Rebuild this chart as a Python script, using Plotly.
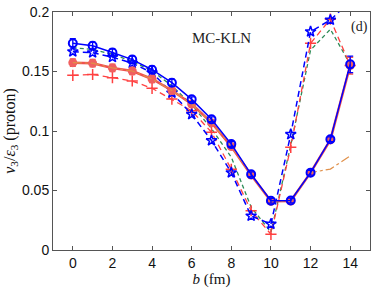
import plotly.graph_objects as go

b = list(range(15))
blue_solid = [0.1737, 0.1717, 0.1660, 0.1600, 0.1515, 0.1406, 0.1266, 0.1098, 0.0890, 0.0636, 0.0414, 0.0416, 0.0650, 0.0930, 0.1560]
blue_err = [0.004, 0.003, 0.003, 0.003, 0.003, 0.003, 0.002, 0.002, 0.002, 0.002, 0.002, 0.002, 0.002, 0.002, 0.007]
red_solid = [0.1574, 0.1570, 0.1530, 0.1504, 0.1437, 0.1340, 0.1227, 0.1070, 0.0870, 0.0630, 0.0410, 0.0412, 0.0650, 0.0925, 0.1550]
red_err = [0.003, 0.003, 0.003, 0.003, 0.003, 0.003, 0.002, 0.002, 0.002, 0.002, 0.002, 0.002, 0.002, 0.002, 0.007]
blue_star = [0.1667, 0.1658, 0.1620, 0.1570, 0.1490, 0.1320, 0.1140, 0.0920, 0.0650, 0.0286, 0.0218, 0.0972, 0.1835, 0.1933, 0.2090]
red_plus = [0.1468, 0.1475, 0.1448, 0.1420, 0.1359, 0.1268, 0.1170, 0.0990, 0.0678, 0.0330, 0.0132, 0.0863, 0.1737, 0.1940, 0.1550]
green = [0.1700, 0.1685, 0.1645, 0.1585, 0.1505, 0.1380, 0.1220, 0.1020, 0.0780, 0.0360, 0.0150, 0.0880, 0.1680, 0.1855, 0.1560]
orange = [0.1574, 0.1570, 0.1530, 0.1504, 0.1437, 0.1340, 0.1227, 0.1070, 0.0870, 0.0630, 0.0410, 0.0412, 0.0650, 0.0680, 0.0790]

fig = go.Figure()
fig.add_trace(go.Scatter(x=b, y=green, mode="lines",
                         line=dict(color="#2e8b57", width=1.3, dash="4px,3px")))
fig.add_trace(go.Scatter(x=b, y=red_plus, mode="lines+markers",
                         line=dict(color="#ff4040", width=1.3, dash="6px,4px"),
                         marker=dict(symbol="cross-thin", size=8, line=dict(color="#ff4040", width=1.5))))
fig.add_trace(go.Scatter(x=b, y=blue_star, mode="lines+markers",
                         line=dict(color="#0000ff", width=1.5, dash="6px,4px"),
                         marker=dict(symbol="star-open", size=8, color="#0000ff", line=dict(color="#0000ff", width=1.5))))
fig.add_trace(go.Scatter(x=b, y=red_solid, mode="lines+markers",
                         line=dict(color="#f05050", width=2.5),
                         marker=dict(symbol="circle", size=9, color="#f06060"),
                         error_y=dict(type="data", array=red_err, color="#f05050", thickness=1.5, width=3)))
fig.add_trace(go.Scatter(x=b, y=orange, mode="lines",
                         line=dict(color="#e0904a", width=1.2, dash="dashdot")))
fig.add_trace(go.Scatter(x=b, y=blue_solid, mode="lines+markers",
                         line=dict(color="#0000ff", width=1.5),
                         marker=dict(symbol="circle-open", size=8, color="#0000ff", line=dict(color="#0000ff", width=2)),
                         error_y=dict(type="data", array=blue_err, color="#0000ff", thickness=1.3, width=3)))

fig.add_annotation(x=7.5, y=0.1785, text="MC-KLN", showarrow=False, xref="x", yref="y",
                   font=dict(family="Liberation Serif, Times New Roman, serif", size=15, color="#222"))
fig.add_annotation(x=14.45, y=0.1875, text="(d)", showarrow=False, xref="x", yref="y",
                   font=dict(family="Liberation Serif, Times New Roman, serif", size=14, color="#222"))

axis_common = dict(showgrid=False, zeroline=False, showline=True, linecolor="#555", linewidth=1,
                   mirror="ticks", ticks="inside", ticklen=4, tickcolor="#555", automargin=False,
                   tickfont=dict(family="Liberation Sans, Arial, sans-serif", size=14, color="#111"))
fig.update_xaxes(range=[-1, 15], tickvals=[0, 2, 4, 6, 8, 10, 12, 14],
                 title=dict(text="<i>b</i> (fm)", standoff=0,
                            font=dict(family="Liberation Serif, Times New Roman, serif", size=15, color="#111")),
                 **axis_common)
fig.update_yaxes(range=[0, 0.2], tickvals=[0, 0.05, 0.1, 0.15, 0.2],
                 ticktext=["0", "0.05", "0.1", "0.15", "0.2"],
                 title=dict(text="<i>v</i><sub>3</sub>/<i>ε</i><sub>3</sub> (proton)", standoff=2,
                            font=dict(family="Liberation Serif, Times New Roman, serif", size=16, color="#111")),
                 **axis_common)
fig.update_layout(width=374, height=288, margin=dict(l=53, r=4, t=12, b=38),
                  paper_bgcolor="white", plot_bgcolor="white", showlegend=False)
fig.write_html("out.html", config={"displayModeBar": False},
               post_script="document.body.style.margin='0';document.body.style.padding='0';")
